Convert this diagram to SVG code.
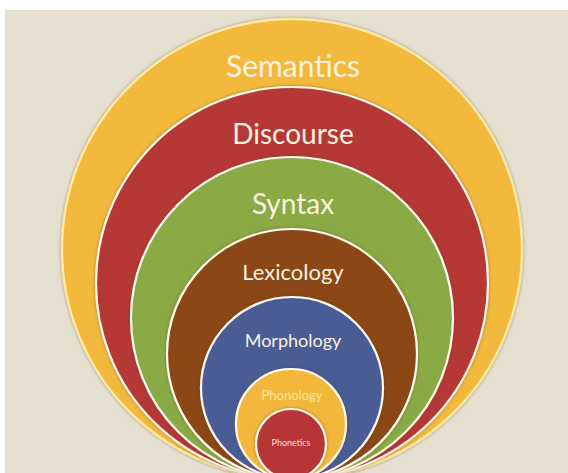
<svg xmlns="http://www.w3.org/2000/svg" width="568" height="473" viewBox="0 0 568 473">
  <defs>
    <filter id="halo" x="-10%" y="-10%" width="120%" height="120%">
      <feDropShadow dx="0" dy="0" stdDeviation="1.6" flood-color="#6a3a12" flood-opacity="0.55"/>
    </filter>
  </defs>
  <style>
    .ring { stroke: #fffaf0; stroke-width: 2.2; filter: url(#halo); }
    .outer { stroke: #fbeaa6; stroke-width: 2.4; }
    .lbl { font-family: Lato, "Open Sans", "Liberation Sans", sans-serif; fill: #fbf1e0; text-anchor: middle; dominant-baseline: central; }
  </style>

  <!-- page and backdrop -->
  <rect x="0" y="0" width="568" height="473" fill="#ffffff"/>
  <rect x="5" y="10" width="563" height="463" fill="#e5dfcf"/>

  <!-- nested layers, all touching at the bottom point (292, 479) -->
  <g id="semantics">
    <circle cx="292" cy="249" r="230" fill="#f3b93d" class="outer" filter="url(#halo)"/>
    <text class="lbl" x="293" y="65" font-size="30">Semantics</text>
  </g>
  <g id="discourse">
    <circle cx="292" cy="283" r="196" fill="#b53934" class="ring"/>
    <text class="lbl" x="293" y="133" font-size="28">Discourse</text>
  </g>
  <g id="syntax">
    <circle cx="292" cy="318" r="161" fill="#8aaa45" class="ring"/>
    <text class="lbl" x="293" y="203" font-size="28">Syntax</text>
  </g>
  <g id="lexicology">
    <circle cx="292" cy="354" r="125" fill="#8b4719" class="ring"/>
    <text class="lbl" x="293" y="271" font-size="22">Lexicology</text>
  </g>
  <g id="morphology">
    <circle cx="292" cy="388" r="91" fill="#4a5c93" class="ring"/>
    <text class="lbl" x="293" y="340" font-size="18">Morphology</text>
  </g>
  <g id="phonology">
    <circle cx="291" cy="424" r="55" fill="#f3b83b" class="ring"/>
    <text class="lbl" x="292" y="395" font-size="13" style="fill:#f9e49a">Phonology</text>
  </g>
  <g id="phonetics">
    <circle cx="291" cy="444" r="35" fill="#b83634" class="ring"/>
    <text class="lbl" x="291" y="442" font-size="9" style="fill:#f6dede">Phonetics</text>
  </g>
</svg>
